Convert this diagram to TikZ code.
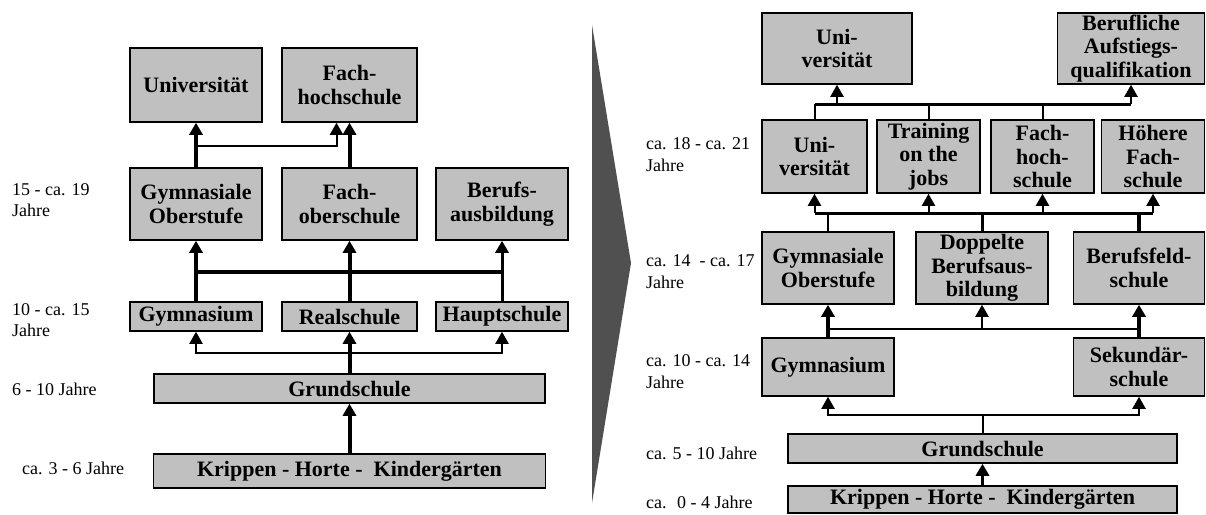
\documentclass[tikz,border=0pt]{standalone}
\usepackage{fontspec}
\setmainfont{Liberation Serif}
\usetikzlibrary{arrows.meta}
\definecolor{boxgray}{HTML}{C0C0C0}
\definecolor{wedgegray}{HTML}{505050}
\begin{document}
\begin{tikzpicture}[x=1pt,y=-1pt,
  box/.style={draw=black, line width=1.5pt, fill=boxgray, inner sep=0pt, align=center,
    font=\bfseries\fontsize{22}{23.5}\selectfont},
  lab/.style={anchor=west, inner sep=0pt, align=left, font=\fontsize{18}{21}\selectfont},
  tip/.style={-{Triangle[length=12pt,width=13pt]}},
  thinln/.style={line width=2pt},
  midln/.style={line width=3pt},
  thickln/.style={line width=4pt}]
\useasboundingbox (0,0) rectangle (1206,514);

% ---------------- left diagram ----------------
\node[box, minimum width=132pt, minimum height=74pt] (uni) at (196,85) {Universität};
\node[box, minimum width=135pt, minimum height=74pt] (fh) at (349.5,85) {Fach-\\hochschule};
\node[box, minimum width=132pt, minimum height=72pt] (go) at (196,204) {Gymnasiale\\Oberstufe};
\node[box, minimum width=135pt, minimum height=72pt] (fos) at (349.5,204) {Fach-\\oberschule};
\node[box, minimum width=132pt, minimum height=72pt] (ba) at (502,204) {Berufs-\\ausbildung};
\node[box, minimum width=132pt, minimum height=29pt] (gym) at (196,316.5) {Gymnasium};
\node[box, minimum width=135pt, minimum height=29pt] (rs) at (349.5,316.5) {Realschule};
\node[box, minimum width=132pt, minimum height=29pt] (hs) at (502,316.5) {Hauptschule};
\node[box, minimum width=391pt, minimum height=29pt] (gs) at (349.5,388.5) {Grundschule};
\node[box, minimum width=392pt, minimum height=34pt] (kr) at (349.5,471) {Krippen - Horte -~ Kindergärten};

\node[lab] (l1) at (12,200) {15 - ca. 19\\Jahre};
\node[lab] (l2) at (12,320) {10 - ca. 15\\Jahre};
\node[lab] (l3) at (12,389) {6 - 10 Jahre};
\node[lab] (l4) at (22,468) {ca. 3 - 6 Jahre};

\coordinate (LA) at (0,146);
\coordinate (LB) at (0,272);
\coordinate (LC) at (0,353);

\draw[thickln,tip] (go.north) -- (uni.south);
\draw[thinln,tip] (go.north |- LA) -| ([xshift=-13pt]fh.south);
\draw[thickln,tip] (fos.north) -- (fh.south);
\draw[thickln] (gym.north |- LB) -- (hs.north |- LB);
\draw[thickln,tip] (gym.north) -- (go.south);
\draw[thickln,tip] (rs.north) -- (fos.south);
\draw[midln,tip] (hs.north) -- (ba.south);
\draw[thinln,tip] (gs.north |- LC) -| (gym.south);
\draw[thinln,tip] (gs.north |- LC) -| (hs.south);
\draw[thickln,tip] (gs.north) -- (rs.south);
\draw[thickln,tip] (kr.north) -- (gs.south);

% ---------------- wedge ----------------
\fill[wedgegray] (592,25) -- (631,263) -- (592,503) -- cycle;

% ---------------- right diagram ----------------
\node[box, minimum width=150pt, minimum height=71pt] (uni2) at (837,48.5) {Uni-\\versität};
\node[box, minimum width=147pt, minimum height=71pt] (bau) at (1131,48.5) {Berufliche\\Aufstiegs-\\qualifikation};
\node[box, minimum width=105pt, minimum height=73pt] (r2uni) at (814.5,156.5) {Uni-\\versität};
\node[box, minimum width=103pt, minimum height=73pt] (tr) at (928.5,156.5) {Training\\on the\\jobs};
\node[box, minimum width=103pt, minimum height=73pt] (fh2) at (1042.5,156.5) {Fach-\\hoch-\\schule};
\node[box, minimum width=103pt, minimum height=73pt] (hfs) at (1153,156.5) {Höhere\\Fach-\\schule};
\node[box, minimum width=132pt, minimum height=72pt] (go2) at (828,268) {Gymnasiale\\Oberstufe};
\node[box, minimum width=132pt, minimum height=72pt] (dba) at (982,268) {Doppelte\\Berufsaus-\\bildung};
\node[box, minimum width=131pt, minimum height=72pt] (bfs) at (1139,268) {Berufsfeld-\\schule};
\node[box, minimum width=132pt, minimum height=58pt] (gym2) at (828,367) {Gymnasium};
\node[box, minimum width=131pt, minimum height=58pt] (sek) at (1139,367) {Sekundär-\\schule};
\node[box, minimum width=389pt, minimum height=29pt] (gs2) at (982.5,448.5) {Grundschule};
\node[box, minimum width=389pt, minimum height=27pt] (kr2) at (982.5,499.5) {Krippen - Horte -~ Kindergärten};

\node[lab, font=\fontsize{18}{22}\selectfont] (r1) at (646,155) {ca. 18 - ca. 21\\Jahre};
\node[lab, font=\fontsize{18}{22}\selectfont] (r2) at (646,272) {ca. 14~ - ca. 17\\Jahre};
\node[lab, font=\fontsize{18}{22}\selectfont] (r3) at (646,372) {ca. 10 - ca. 14\\Jahre};
\node[lab] (r4) at (646,453) {ca. 5 - 10 Jahre};
\node[lab] (r5) at (646,502) {ca.~ 0 - 4 Jahre};

\coordinate (RA) at (0,104);
\coordinate (RB) at (0,213);
\coordinate (RC) at (0,329);
\coordinate (RD) at (0,415);

\draw[midln] (r2uni.north |- RA) -- (bau.south |- RA);
\draw[thinln] (r2uni.north) -- (r2uni.north |- RA);
\draw[thinln] (tr.north) -- (tr.north |- RA);
\draw[thinln] (fh2.north) -- (fh2.north |- RA);
\draw[thinln,tip] (uni2.south |- RA) -- (uni2.south);
\draw[thinln,tip] (bau.south |- RA) -- (bau.south);

\draw[midln] (r2uni.south |- RB) -- (hfs.south |- RB);
\foreach \n in {r2uni,tr,fh2,hfs}
  \draw[thinln,tip] (\n.south |- RB) -- (\n.south);
\draw[thinln] (go2.north) -- (go2.north |- RB);
\draw[midln] (dba.north) -- (dba.north |- RB);
\draw[thickln] (bfs.north) -- (bfs.north |- RB);

\draw[thinln] (go2.south |- RC) -- (bfs.south |- RC);
\draw[thickln,tip] (gym2.north) -- (go2.south);
\draw[thinln,tip] (dba.south |- RC) -- (dba.south);
\draw[thickln,tip] (sek.north) -- (bfs.south);

\draw[thinln] (gs2.north) -- (gs2.north |- RD);
\draw[thinln,tip] (gs2.north |- RD) -| (gym2.south);
\draw[thinln,tip] (gs2.north |- RD) -| (sek.south);
\draw[midln,tip] (kr2.north) -- (gs2.south);
\end{tikzpicture}
\end{document}
